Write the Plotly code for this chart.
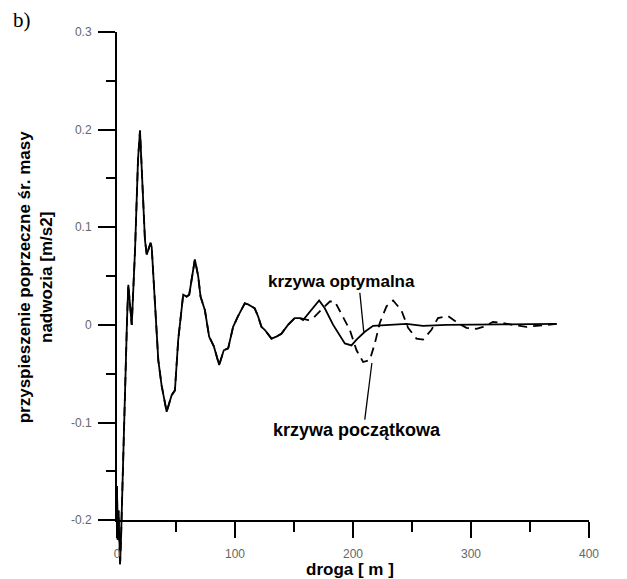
import plotly.graph_objects as go

# Shared part of both curves (droga [m], acceleration [m/s2])
x_shared = [0, 0.6, 1.3, 2.6, 3.4, 4.2, 5.9, 7.6, 8.5, 9.6,
            12.5, 15.3, 17.8, 19.5, 22.3, 23.7, 25.2, 28.5, 29.4, 32.2,
            35, 37.8, 42.1, 46.3, 49.1, 51.9, 56.1, 59, 61.2, 63.2,
            66, 68.8, 70.8, 74.5, 78.1, 82.1, 86.6, 90.5, 94.2, 98.4,
            102.6, 108.3, 111.1, 116.7, 119.5, 122.4, 125.2, 130.9, 135.1, 139.3,
            144.9, 150.6, 154.8]
y_shared = [-0.165, -0.22, -0.19, -0.245, -0.22, -0.18, -0.118, -0.036, 0.005, 0.041,
            0.0, 0.077, 0.169, 0.199, 0.132, 0.087, 0.072, 0.084, 0.080, 0.015,
            -0.036, -0.062, -0.089, -0.072, -0.067, -0.015, 0.031, 0.029, 0.031, 0.046,
            0.067, 0.050, 0.029, 0.015, -0.012, -0.022, -0.041, -0.026, -0.024, -0.002,
            0.009, 0.022, 0.021, 0.017, 0.009, -0.002, -0.005, -0.014, -0.012, -0.009,
            0.0, 0.007, 0.007]

# krzywa optymalna (solid) tail
x_opt_tail = [157.7, 164.9, 171.3, 176.1, 183.2, 193.1, 198.7, 203.0, 210.0, 217.0,
              228.4, 245.3, 259.3, 279.2, 324.3, 372.6]
y_opt_tail = [0.005, 0.015, 0.025, 0.017, 0.0, -0.019, -0.021, -0.015, -0.007, -0.001,
              0.0, 0.001, -0.001, 0.0, 0.0005, 0.001]

# krzywa poczatkowa (dashed) tail
x_pocz_tail = [162.0, 166.2, 174.4, 180.4, 184.6, 191.6, 197.3, 203.0, 208.6, 214.2,
               218.5, 222.7, 228.4, 234.0, 241.0, 246.7, 253.8, 259.4, 266.5, 272.0,
               280.5, 287.6, 296.1, 304.6, 310.2, 318.6, 327.1, 335.6, 346.9, 355.4,
               363.8, 372.6]
y_pocz_tail = [0.005, 0.007, 0.017, 0.024, 0.024, 0.0085, -0.005, -0.026, -0.038, -0.036,
               -0.019, 0.002, 0.019, 0.025, 0.015, -0.003, -0.014, -0.015, -0.005, 0.007,
               0.009, 0.003, -0.003, -0.004, -0.002, 0.003, 0.002, 0.0, -0.002, -0.001,
               0.0, 0.001]

x_opt = x_shared + x_opt_tail
y_opt = y_shared + y_opt_tail
x_pocz = x_shared + x_pocz_tail
y_pocz = y_shared + y_pocz_tail

x_ticks = [0, 100, 200, 300, 400]
x_minor = [50, 150, 250, 350]
y_ticks = [-0.2, -0.1, 0, 0.1, 0.2, 0.3]
y_tick_text = ["-0.2", "-0.1", "0", "0.1", "0.2", "0.3"]
y_minor = [-0.15, -0.05, 0.05, 0.15, 0.25]

fig = go.Figure()
fig.add_trace(go.Scatter(x=x_pocz, y=y_pocz, mode="lines",
                         line=dict(color="black", width=1.8, dash="9px,6px"),
                         name="krzywa początkowa", showlegend=False))
fig.add_trace(go.Scatter(x=x_opt, y=y_opt, mode="lines",
                         line=dict(color="black", width=1.8),
                         name="krzywa optymalna", showlegend=False))
# empty helper trace so the drawn axis frame (x2/y2) is rendered
fig.add_trace(go.Scatter(x=[], y=[], xaxis="x2", yaxis="y2", mode="lines",
                         showlegend=False, hoverinfo="skip"))

tickfont = dict(family="Liberation Sans, Arial, sans-serif", size=12, color="#666666")
bold = dict(family="Liberation Sans, Arial, sans-serif", size=17, color="black",
            weight="bold")

# data area (hidden axes) extends a bit beyond the drawn axes
xr = [-14.4, 400]
yr = [-0.25, 0.3]
# drawn axes
xr2 = [0, 400]
yr2 = [-0.2, 0.3]
xdom2 = [(xr2[0] - xr[0]) / (xr[1] - xr[0]), 1]
ydom2 = [(yr2[0] - yr[0]) / (yr[1] - yr[0]), 1]

common = dict(ticks="outside", tickwidth=2, tickcolor="black",
              showline=True, linecolor="black", linewidth=2,
              showgrid=False, zeroline=False, tickfont=tickfont)

fig.update_layout(
    width=627, height=579,
    margin=dict(l=100, r=38, t=32, b=10, pad=0, autoexpand=False),
    paper_bgcolor="white", plot_bgcolor="rgba(0,0,0,0)",
    xaxis=dict(range=xr, visible=False, domain=[0, 1]),
    yaxis=dict(range=yr, visible=False, domain=[0, 1]),
    xaxis2=dict(range=xr2, domain=xdom2, anchor="y2", tickmode="array",
                tickvals=x_ticks, ticklen=16, ticklabelstandoff=5,
                minor=dict(tickmode="array", tickvals=x_minor, ticks="outside",
                           ticklen=10, tickwidth=2, tickcolor="black", showgrid=False),
                **common),
    yaxis2=dict(range=yr2, domain=ydom2, anchor="x2", tickmode="array",
                tickvals=y_ticks, ticktext=y_tick_text, ticklen=17,
                ticklabelstandoff=4,
                minor=dict(tickmode="array", tickvals=y_minor, ticks="outside",
                           ticklen=9, tickwidth=2, tickcolor="black", showgrid=False),
                **common),
    annotations=[
        dict(text="b)", xref="paper", yref="paper", x=-0.16, y=1.022,
             xanchor="center", yanchor="middle",
             showarrow=False, font=dict(family="Liberation Serif, Times New Roman, serif",
                                        size=21, color="black")),
        dict(text="droga [ m ]", xref="paper", yref="paper", x=0.511, y=0.0,
             xanchor="center", yanchor="middle", showarrow=False, font=bold),
        dict(text="przyspieszenie poprzeczne śr. masy<br>nadwozia [m/s2]",
             xref="paper", yref="paper", x=-0.133, y=0.545, textangle=-90,
             xanchor="center", yanchor="middle", showarrow=False, font=bold),
        dict(text="krzywa optymalna", x=190.1, y=0.044, xanchor="center",
             yanchor="middle", showarrow=False, font=bold),
        dict(text="krzywa początkowa", x=203.5, y=-0.108, xanchor="center",
             yanchor="middle", showarrow=False, font=dict(bold, size=18)),
    ],
    shapes=[
        dict(type="line", x0=205.8, y0=0.033, x1=209.1, y1=-0.007,
             line=dict(color="black", width=1.3)),
        dict(type="line", x0=210.0, y0=-0.097, x1=216.0, y1=-0.039,
             line=dict(color="black", width=1.3)),
    ],
)

fig.write_html("out.html")
